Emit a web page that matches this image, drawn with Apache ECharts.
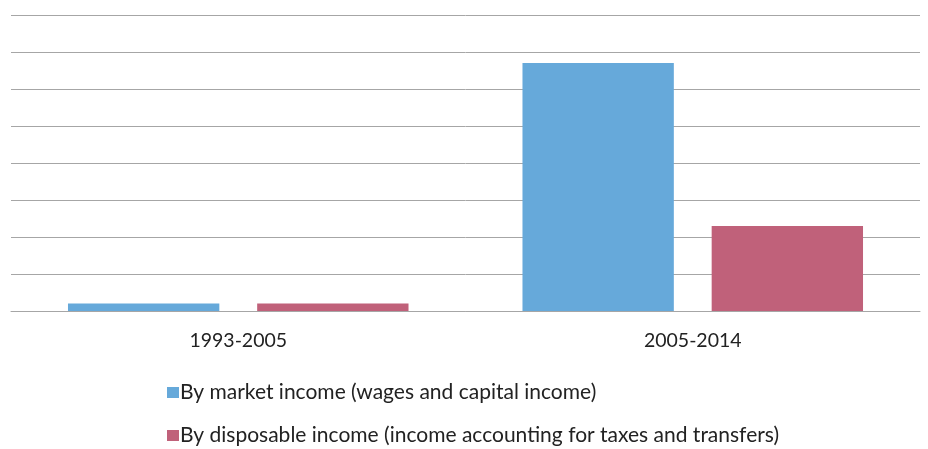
<!DOCTYPE html>
<html>
<head>
<meta charset="utf-8">
<script src="https://cdn.jsdelivr.net/npm/echarts@6/dist/echarts.min.js"></script>
<style>
  html, body { margin: 0; padding: 0; background: #fff; }
  #chart { width: 928px; height: 449px; }
</style>
</head>
<body>
<div id="chart"></div>
<script>
// Periods compared
const periods = ['1993-2005', '2005-2014'];
// Series names
const marketName = 'By market income (wages and capital income)';
const disposableName = 'By disposable income (income accounting for taxes and transfers)';
// Values per period
const marketValues = [0.2, 6.7];
const disposableValues = [0.2, 2.3];

const legendText = { fontSize: 21, color: '#222', fontFamily: 'Lato, sans-serif', padding: [0, 0, 0, -4] };
const legendBase = {
  orient: 'vertical',
  left: 162,
  itemWidth: 12,
  itemHeight: 11,
  icon: 'rect',
  textStyle: legendText
};

const chart = echarts.init(document.getElementById('chart'));
chart.setOption({
  animation: false,
  textStyle: { fontFamily: 'Lato, "Open Sans", sans-serif' },
  grid: { left: 11, right: 8, top: 15, bottom: 138, containLabel: false },
  legend: [
    Object.assign({}, legendBase, { top: 377, data: [marketName] }),
    Object.assign({}, legendBase, { top: 420, data: [disposableName] })
  ],
  xAxis: {
    type: 'category',
    data: periods,
    axisLine: { lineStyle: { color: '#a6a6a6', width: 1 } },
    axisTick: { show: false },
    axisLabel: { fontSize: 19.5, color: '#222', margin: 20 }
  },
  yAxis: {
    type: 'value',
    min: 0,
    max: 8,
    interval: 1,
    axisLabel: { show: false },
    axisLine: { show: false },
    axisTick: { show: false },
    splitLine: { lineStyle: { color: '#a6a6a6', width: 1 } }
  },
  series: [
    {
      name: marketName,
      type: 'bar',
      data: marketValues,
      barWidth: '33.3%',
      barGap: '25%',
      itemStyle: { color: '#66A9DA' }
    },
    {
      name: disposableName,
      type: 'bar',
      data: disposableValues,
      barWidth: '33.3%',
      itemStyle: { color: '#C0617A' }
    }
  ]
});
</script>
</body>
</html>
